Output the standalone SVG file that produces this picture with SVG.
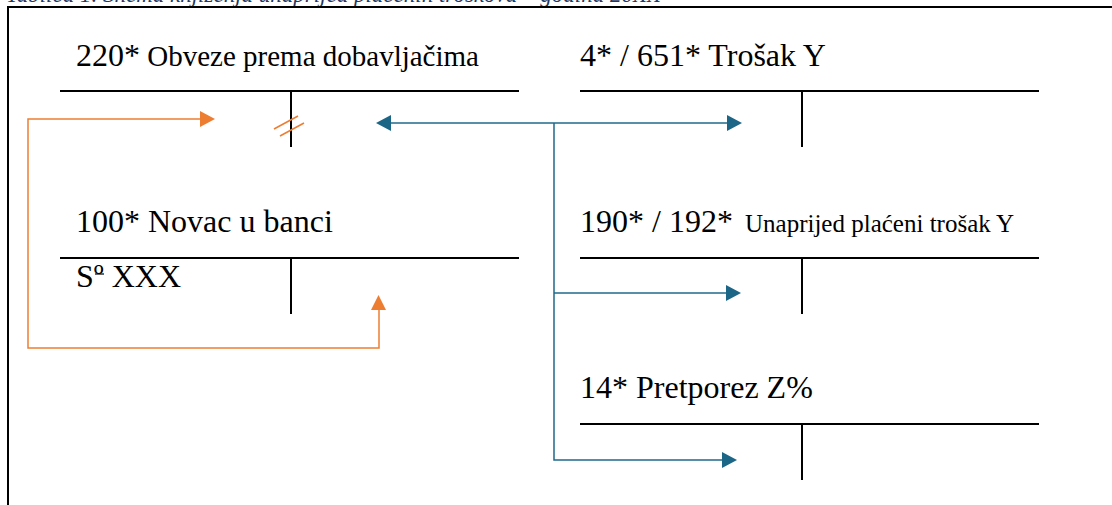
<svg xmlns="http://www.w3.org/2000/svg" width="1112" height="505" viewBox="0 0 1112 505">
<style>
.t{font-family:"Liberation Serif","Times New Roman",serif;fill:#000}
.big{font-size:32px}
.ln{stroke:#000;stroke-width:2;fill:none}
.or{stroke:#ED7D31;stroke-width:1.5;fill:none}
.bl{stroke:#1F6A8C;stroke-width:1.5;fill:none}
.cap{font-family:"Liberation Serif",serif;font-style:italic;font-size:23px;fill:#1F3864}
</style>
<rect width="1112" height="505" fill="#fff"/>
<text class="cap" x="6" y="2">Tablica 1. Shema knjiženja unaprijed plaćenih troškova – godina 20XX</text>
<g id="frame">
<line class="ln" x1="7" y1="7" x2="1112" y2="7"/>
<line class="ln" x1="8" y1="6" x2="8" y2="505"/>
</g>
<g id="acc220">
<text class="t" x="76" y="66"><tspan class="big">220*</tspan><tspan font-size="29"> Obveze prema dobavljačima</tspan></text>
<line class="ln" x1="60" y1="91" x2="519" y2="91"/>
<line class="ln" x1="291" y1="91" x2="291" y2="147"/>
<line stroke="#ED7D31" stroke-width="1.5" x1="274" y1="129" x2="298" y2="116"/>
<line stroke="#ED7D31" stroke-width="1.5" x1="280" y1="136" x2="304" y2="123"/>
</g>
<g id="acc4">
<text class="t big" x="580" y="66">4* / 651* Trošak Y</text>
<line class="ln" x1="580" y1="91" x2="1039" y2="91"/>
<line class="ln" x1="802" y1="91" x2="802" y2="147"/>
</g>
<g id="acc100">
<text class="t big" x="76" y="232">100* Novac u banci</text>
<line class="ln" x1="60" y1="258" x2="519" y2="258"/>
<line class="ln" x1="291" y1="258" x2="291" y2="314"/>
<text class="t big" x="76" y="287">Sº XXX</text>
<line stroke="#000" stroke-width="1.2" x1="95" y1="274" x2="104" y2="274"/>
</g>
<g id="acc190">
<text class="t" x="580" y="232"><tspan class="big">190* / 192*</tspan><tspan font-size="25" x="745">Unaprijed plaćeni trošak Y</tspan></text>
<line class="ln" x1="580" y1="258" x2="1039" y2="258"/>
<line class="ln" x1="802" y1="258" x2="802" y2="314"/>
</g>
<g id="acc14">
<text class="t big" x="580" y="398">14* Pretporez Z%</text>
<line class="ln" x1="580" y1="424" x2="1039" y2="424"/>
<line class="ln" x1="802" y1="424" x2="802" y2="480"/>
</g>
<g id="connectors">
<polyline class="or" points="379,310 379,348 28,348 28,119 200,119"/>
<path d="M200,111 L215,119 L200,127 Z" fill="#ED7D31"/>
<path d="M371,310 L378.5,295 L386,310 Z" fill="#ED7D31"/>
<line class="bl" x1="390" y1="123" x2="727" y2="123"/>
<path d="M391,115 L376,123 L391,131 Z" fill="#1B6587"/>
<path d="M727,115 L742,123 L727,131 Z" fill="#1B6587"/>
<polyline class="bl" points="554,123 554,460 723,460"/>
<path d="M722,452 L737,460 L722,468 Z" fill="#1B6587"/>
<line class="bl" x1="554" y1="293" x2="727" y2="293"/>
<path d="M726,285 L741,293 L726,301 Z" fill="#1B6587"/>
</g>
</svg>
